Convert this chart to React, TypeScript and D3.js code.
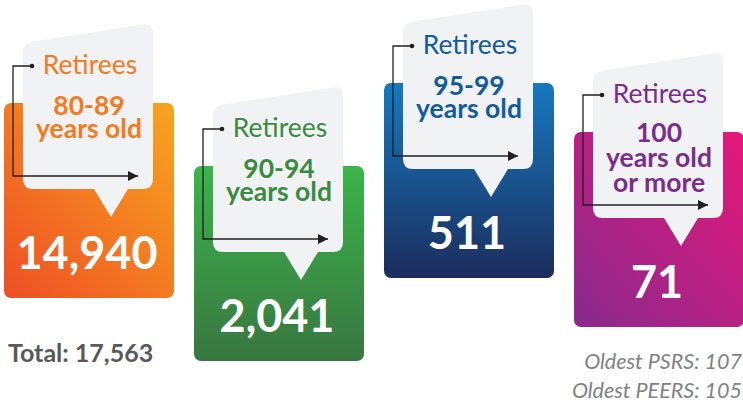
import React, { useRef, useEffect } from "react";
import * as d3 from "d3";

// data
const groups = ["80-89", "90-94", "95-99", "100+"];
const groupLines = [
  ["80-89", "years old"],
  ["90-94", "years old"],
  ["95-99", "years old"],
  ["100", "years old", "or more"],
];
const retirees = [14940, 2041, 511, 71];
const systems = ["PSRS", "PEERS"];
const oldestAges = [107, 105];

// layout / styles (not data)
const boxTops = [103, 166, 83, 132];
const textColors = ["#F47A20", "#3A8B3F", "#135C9C", "#7B2D8C"];
const gradients = [
  { from: "#EE4F25", to: "#F8A51E", x1: 0, y1: 1, x2: 1, y2: 0 },
  { from: "#3AB54A", to: "#397640", x1: 0, y1: 0, x2: 0, y2: 1 },
  { from: "#1679C0", to: "#1C2D5C", x1: 0, y1: 0, x2: 0, y2: 1 },
  { from: "#E6187A", to: "#872A8C", x1: 1, y1: 0, x2: 0, y2: 1 },
];

const FONT = "Lato, 'Open Sans', sans-serif";

const App = () => {
  const container = useRef<SVGSVGElement | null>(null);

  const width = 743;
  const height = 406;

  useEffect(() => {
    const svg = d3.select(container.current);
    svg.selectAll("*").remove();

    const boxW = 170;
    const boxH = 195;

    const x = d3
      .scaleBand()
      .domain(groups)
      .range([4, 744])
      .paddingInner(20 / 190)
      .paddingOuter(0);

    const defs = svg.append("defs");
    gradients.forEach((g, i) => {
      const lg = defs
        .append("linearGradient")
        .attr("id", `grad${i}`)
        .attr("x1", g.x1)
        .attr("y1", g.y1)
        .attr("x2", g.x2)
        .attr("y2", g.y2);
      lg.append("stop").attr("offset", "0%").attr("stop-color", g.from);
      lg.append("stop").attr("offset", "100%").attr("stop-color", g.to);
    });

    defs
      .append("marker")
      .attr("id", "arrowHead")
      .attr("viewBox", "0 0 10 10")
      .attr("refX", 10)
      .attr("refY", 5)
      .attr("markerWidth", 10)
      .attr("markerHeight", 10)
      .attr("markerUnits", "userSpaceOnUse")
      .attr("orient", "auto")
      .append("path")
      .attr("d", "M0,0 L10,5 L0,10 Z")
      .attr("fill", "#231F20");

    // bubble path relative to box origin
    const bubblePath = () => {
      const x0 = 19;
      const x1 = 149;
      const yL = -60;
      const yR = -80;
      const yb = 86;
      const r = 10;
      const s = (yR - yL) / (x1 - x0);
      const p = d3.path();
      p.moveTo(x0, yL + r);
      p.quadraticCurveTo(x0, yL, x0 + r, yL + r * s);
      p.lineTo(x1 - r, yR - r * s);
      p.quadraticCurveTo(x1, yR, x1, yR + r);
      p.lineTo(x1, yb - r);
      p.quadraticCurveTo(x1, yb, x1 - r, yb);
      p.lineTo(124, yb);
      p.lineTo(107, 114);
      p.lineTo(90, yb);
      p.lineTo(x0 + r, yb);
      p.quadraticCurveTo(x0, yb, x0, yb - r);
      p.closePath();
      return p.toString();
    };

    const cards = svg
      .selectAll(".card")
      .data(groups)
      .enter()
      .append("g")
      .attr("class", "card")
      .attr("transform", (d, i) => `translate(${x(d)}, ${boxTops[i]})`);

    // colored boxes
    cards
      .append("rect")
      .attr("width", boxW)
      .attr("height", boxH)
      .attr("rx", 7)
      .attr("fill", (d, i) => `url(#grad${i})`);

    // speech bubbles
    cards.append("path").attr("d", bubblePath()).attr("fill", "#F1F2F4");

    // connector arrows
    cards
      .append("path")
      .attr("d", "M28,-37 L9,-37 L9,73 L134,73")
      .attr("fill", "none")
      .attr("stroke", "#231F20")
      .attr("stroke-width", 1.3)
      .attr("marker-end", "url(#arrowHead)");

    cards
      .append("circle")
      .attr("cx", 28)
      .attr("cy", -37)
      .attr("r", 2.3)
      .attr("fill", "#231F20");

    // "Retirees" label
    cards
      .append("text")
      .attr("x", 86)
      .attr("y", -29)
      .attr("text-anchor", "middle")
      .style("font-family", FONT)
      .style("font-size", "26.5px")
      .style("fill", (d, i) => textColors[i])
      .text("Retirees");

    // age range lines
    cards.each(function (d, i) {
      const lines = groupLines[i];
      const start = lines.length > 2 ? 10 : 12;
      const step = lines.length > 2 ? 25 : 23;
      d3.select(this)
        .selectAll(".age")
        .data(lines)
        .enter()
        .append("text")
        .attr("class", "age")
        .attr("x", 85)
        .attr("y", (l, j) => start + j * step)
        .attr("text-anchor", "middle")
        .style("font-family", FONT)
        .style("font-weight", 700)
        .style("font-size", "26.5px")
        .style("fill", textColors[i])
        .text((l) => l);
    });

    // counts
    cards
      .append("text")
      .attr("x", 83)
      .attr("y", 166)
      .attr("text-anchor", "middle")
      .style("font-family", FONT)
      .style("font-weight", 700)
      .style("font-size", "45px")
      .style("fill", "#FFFFFF")
      .text((d, i) => d3.format(",")(retirees[i]));

    // total
    svg
      .append("text")
      .attr("x", 8)
      .attr("y", 362)
      .style("font-family", FONT)
      .style("font-weight", 700)
      .style("font-size", "25px")
      .style("fill", "#58595B")
      .text(`Total: ${d3.format(",")(d3.sum(retirees))}`);

    // oldest members
    svg
      .selectAll(".oldest")
      .data(systems)
      .enter()
      .append("text")
      .attr("class", "oldest")
      .attr("x", 742)
      .attr("y", (d, i) => 369 + i * 29)
      .attr("text-anchor", "end")
      .style("font-family", FONT)
      .style("font-style", "italic")
      .style("font-size", "21.5px")
      .style("fill", "#808285")
      .text((d, i) => `Oldest ${d}: ${oldestAges[i]}`);
  }, []);

  return (
    <div style={{ position: "absolute", left: 0, top: 0, width: width, height: height }}>
      <svg ref={container} width={width} height={height} style={{ display: "block", background: "#FFFFFF" }} />
    </div>
  );
};

export default App;
